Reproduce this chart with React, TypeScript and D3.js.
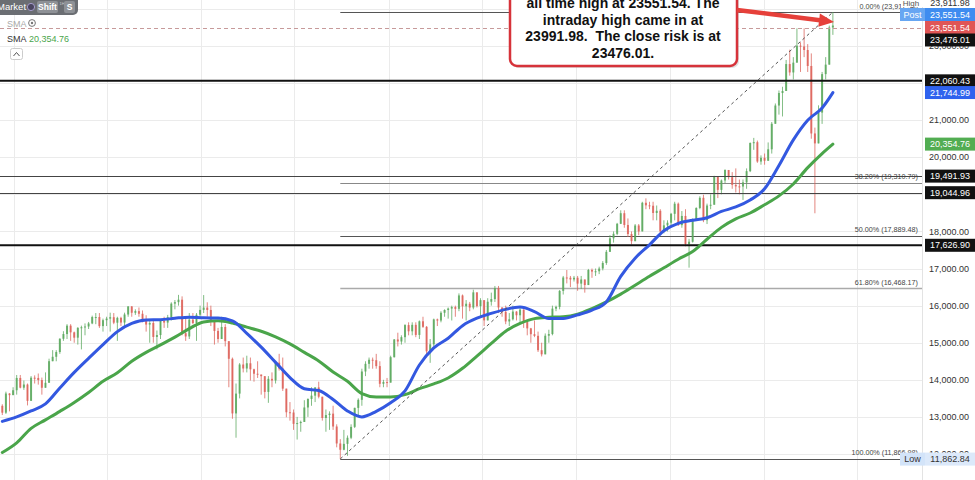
import React, { useEffect, useRef } from 'react';
import * as d3 from 'd3';

// weekly candles, first week starts Monday 7 Dec 2020, last week Monday 12 May 2025
const firstMonday = Date.UTC(2020, 11, 7);
const firstOpen = 13298;

const closes = [
  13114, 13631, 13587, 13719, // dec 20
  14050, 13788, 13873, 13433, // jan 21
  14057, 14050, 13993, 13786,
  13920, 14502, 14621, 14749, 15107,
  15234, 15460, 15280, 15136,
  15400, 15417, 15438, 15520, 15693,
  15693, 15448, 15608, 15650,
  15688, 15540, 15670, 15544,
  15761, 15977, 15808, 15852, 15781,
  15609, 15490, 15532, 15156,
  15207, 15587, 15543, 15688,
  16054, 16094, 16160, 15257, 15169,
  15623, 15531, 15756, 15885,
  15947, 15883, 15603, 15318, 15100, // jan 22
  15425, 15042, 14567, 13094,
  13628, 14413, 14305, 14446,
  14284, 14164, 14142, 14098,
  13674, 14027, 13982, 14462, 14303,
  13762, 13126, 13118, 12813,
  12834, 12864, 13254, 13484,
  13573, 13795, 13544, 12971, 13050,
  13088, 12741, 12284, 12114,
  12273, 12438, 12731, 13243, 13460,
  14224, 14431, 14541, 14529,
  14370, 13893, 13940, 13924,
  14610, 15087, 15033, 15150, 15476, // jan 23
  15308, 15482, 15210, 15578,
  15428, 14768, 14957, 15629,
  15598, 15808, 15882, 15922,
  15961, 15914, 16275, 15983, 16051,
  15949, 16358, 15989, 16148,
  15603, 16105, 16177, 16470, 15951,
  15832, 15574, 15632, 15840,
  15740, 15894, 15557, 15387,
  15230, 15186, 14798, 14687, 15189,
  15234, 15919, 15967, 16397,
  16759, 16751, 16706, 16752,
  16594, 16705, 16555, 16961, 16918, // jan 24
  16927, 17000, 17150, 17450,
  17815, 17936, 18206, 18492,
  18175, 17930, 17737, 18161, 18001,
  18773, 18704, 18693, 18498,
  18557, 18002, 18164, 18235,
  18475, 18748, 18171, 18418, 17661,
  17723, 18322, 18633, 18907,
  18302, 18699, 18720, 19473, 19121,
  19374, 19657, 19464, 19255,
  19215, 19211, 19323, 19626,
  20385, 20406, 19885, 19984, 19906,
  20215, 20903, 21395, 21732, // jan 25
  21787, 22513, 22287, 22551,
  23009, 22987, 22892, 22461, 20642,
  20374, 21205, 22242, 22497,
  23499, 23551.54,
];

const highs = [
  13340, 13680, 13640, 13800,
  14130, 14130, 13980, 13900,
  14100, 14120, 14170, 14060,
  14200, 14570, 14800, 14800, 15120,
  15310, 15500, 15500, 15300,
  15420, 15460, 15520, 15560, 15730,
  15800, 15800, 15650, 15700,
  15810, 15800, 15700, 15700,
  15810, 15990, 15990, 15900, 15950,
  15870, 15740, 15640, 15600,
  15330, 15600, 15700, 15750,
  16090, 16150, 16290, 16250, 15700,
  15800, 15800, 15800, 16000,
  16285, 16090, 16000, 15600, 15400,
  15700, 15500, 15000, 14600,
  13900, 14450, 14600, 14650,
  14600, 14300, 14500, 14100,
  14100, 14100, 14200, 14500, 14700,
  14600, 13700, 13400, 13200,
  13000, 12900, 13450, 13500,
  13800, 13800, 13950, 13500, 13200,
  13150, 13300, 12800, 12400,
  12650, 12500, 12800, 13250, 13500,
  14300, 14500, 14600, 14600,
  14700, 14500, 14000, 14050,
  14650, 15100, 15270, 15200, 15500,
  15550, 15550, 15550, 15600,
  15700, 15450, 15100, 15650,
  15650, 15850, 15900, 15950,
  16000, 16000, 16330, 16300, 16150,
  16100, 16430, 16300, 16200,
  16100, 16200, 16350, 16530, 16530,
  15950, 16000, 15800, 16000,
  15850, 15950, 15900, 15600,
  15400, 15600, 15300, 15000, 15250,
  15350, 16000, 16000, 16420,
  16800, 16960, 16800, 16800,
  16800, 16800, 16700, 16990, 17000,
  17000, 17050, 17200, 17500,
  17900, 18000, 18230, 18570,
  18570, 18350, 18000, 18200, 18200,
  18800, 18892, 18800, 18800,
  18700, 18600, 18300, 18300,
  18500, 18800, 18780, 18550, 18600,
  17800, 18350, 18650, 18950,
  18990, 18750, 19000, 19500, 19450,
  19400, 19675, 19650, 19600,
  19700, 19400, 19400, 19700,
  20400, 20522, 20450, 20050, 20100,
  20400, 20950, 21450, 21800,
  21900, 22624, 22900, 22700,
  23476.01, 23100, 23476, 23050, 22800,
  20800, 21400, 22300, 22700,
  23550, 23911.98,
];

const lows = [
  13050, 13080, 13150, 13600,
  13600, 13770, 13730, 13310,
  13500, 13900, 13870, 13600,
  13800, 13950, 14500, 14500, 14700,
  15050, 15100, 15050, 15000,
  14950, 14820, 15200, 15370, 15500,
  15500, 15400, 15300, 15450,
  15300, 15500, 15050, 15450,
  15450, 15700, 15700, 15750, 15700,
  15550, 15300, 15000, 15000,
  14820, 15100, 15400, 15400,
  15600, 15900, 16000, 15200, 15050,
  15100, 15500, 15050, 15700,
  15800, 15700, 15450, 14950, 15000,
  15200, 14900, 13800, 12950,
  12439, 13500, 14200, 14200,
  13980, 13950, 14050, 13600,
  13500, 13380, 13800, 13900, 14250,
  13700, 12990, 12900, 12650,
  12390, 12600, 12900, 13000,
  13300, 13400, 13500, 12900, 12600,
  12650, 12650, 12180, 11862.84,
  12100, 11950, 12400, 12700, 13000,
  13300, 14100, 14300, 14300,
  14300, 13800, 13800, 13800,
  13950, 14600, 14900, 14950, 15000,
  15200, 15200, 15150, 15100,
  15400, 14600, 14458, 14900,
  15450, 15550, 15700, 15650,
  15600, 15700, 15850, 15650, 15600,
  15850, 15900, 15950, 15700,
  15450, 15600, 16000, 16100, 15800,
  15700, 15500, 15450, 15600,
  15600, 15550, 15400, 15200,
  15000, 15150, 14750, 14630, 14700,
  15000, 15200, 15850, 15900,
  16300, 16600, 16500, 16650,
  16400, 16450, 16350, 16600, 16750,
  16800, 16850, 16950, 17100,
  17600, 17700, 17900, 18200,
  18100, 17850, 17650, 17850, 17900,
  18000, 18600, 18600, 18300,
  18300, 17950, 17950, 18000,
  18100, 18300, 18150, 18100, 17600,
  17024, 17700, 18300, 18600,
  18250, 18200, 18600, 18750, 18900,
  19000, 19300, 19400, 19150,
  19050, 19000, 18850, 19150,
  19600, 20200, 19850, 19800, 19800,
  19900, 20100, 20900, 21150,
  21100, 21800, 22200, 22100,
  22600, 22300, 22700, 22300, 20500,
  18489.91, 20700, 20900, 22100,
  22700, 23300,
];

// moving averages read every 4th week (and the last week)
const smaWeeks = d3.range(0, 229, 4).concat([231]);
const smaBlue = [
  12880, 13000, 13160, 13350, 13780, 14200, 14580, 14950, 15300, 15520,
  15613, 15620, 15660, 15690, 15670, 15665, 15590, 15250, 14880, 14470,
  14060, 13760, 13710, 13470, 13160, 13000, 13150, 13380, 13700, 14400,
  14860, 15120, 15460, 15660, 15790, 15900, 15960, 15840, 15650, 15650,
  15750, 15880, 16100, 16790, 17280, 17640, 18020, 18220, 18300, 18370,
  18540, 18660, 18848, 19150, 19780, 20470, 21000, 21330, 21744.99,
];
const smaGreen = [
  12040, 12300, 12690, 12920, 13150, 13390, 13660, 13960, 14190, 14500,
  14740, 14940, 15150, 15380, 15560, 15590, 15530, 15420, 15310, 15160,
  14970, 14740, 14510, 14211, 13960, 13630, 13537, 13537, 13600, 13760,
  13890, 14050, 14310, 14640, 14980, 15310, 15520, 15650, 15685, 15700,
  15770, 15920, 16100, 16310, 16550, 16790, 17020, 17250, 17460, 17790,
  18110, 18340, 18497, 18720, 18960, 19280, 19720, 20100, 20354.76,
];

const priceTicks = [12000, 13000, 14000, 15000, 16000, 17000, 18000, 19000, 20000, 21000, 22000, 23000];
const gridLevels = priceTicks.concat([24000]);
const thickLevels = [22060.43, 17626.90];
const thinLevels = [19491.93, 19044.96];
const fibRatios = [0, 0.382, 0.5, 0.618, 1];
const fibHigh = 23911.98;
const fibLow = 11866.98;
const fibLowWeek = 94;
const lastWeek = 231;
const lastPrice = 23551.54;
const closeRisk = 23476.01;
const sessionLow = 11862.84;
const noteLines = [
  'all time high at 23551.54. The',
  'intraday high came in at',
  '23991.98.  The close risk is at',
  '23476.01.',
];

const FONT = '"Liberation Sans", Arial, sans-serif';
const RED = '#dd6259';
const GREEN = '#5aa85d';
const BLUE = '#3358e0';
const SMA_GREEN = '#4aa54a';

function draw(elm: SVGSVGElement) {
  const W = 975, H = 480, plotR = 922;
  const svg = d3.select(elm).attr('font-family', FONT);
  svg.selectAll('*').remove();

  const x = d3.scaleUtc()
    .domain([new Date(Date.UTC(2020, 11, 5)), new Date(Date.UTC(2025, 10, 4))])
    .range([0, plotR]);
  const y = d3.scaleLinear().domain([11299, 24240]).range([H, 0]);
  const weekAt = (i: number) => new Date(firstMonday + (i * 7 + 2.5) * 864e5);
  const fmt = d3.format(',.2f');
  const py = (v: number) => Math.round(y(v)) + 0.5;

  svg.append('rect').attr('width', W).attr('height', H).attr('fill', '#fff');

  // grid
  const grid = svg.append('g').attr('stroke', '#ebebeb').attr('stroke-width', 1);
  grid.selectAll('.gy').data(gridLevels).join('line')
    .attr('x1', 0).attr('x2', plotR)
    .attr('y1', d => py(d)).attr('y2', d => py(d));
  grid.selectAll('.gx').data(x.ticks(d3.utcMonth.every(6)!)).join('line')
    .attr('x1', d => Math.round(x(d)) + 0.5).attr('x2', d => Math.round(x(d)) + 0.5)
    .attr('y1', 0).attr('y2', H);

  // fibonacci retracement
  const fibX0 = x(weekAt(fibLowWeek));
  const fibs = fibRatios.map(r => ({ r, v: fibHigh - r * (fibHigh - fibLow) }));
  const fibColor = (r: number) => (r === 0.618 ? '#aaa' : r === 0.382 ? '#888' : '#555');
  svg.append('g').selectAll('line').data(fibs).join('line')
    .attr('x1', fibX0).attr('x2', plotR)
    .attr('y1', d => py(d.v)).attr('y2', d => py(d.v))
    .attr('stroke', d => fibColor(d.r))
    .attr('stroke-width', d => (d.r === 0.618 ? 1.6 : 1.1));

  // candles
  const candles = closes.map((c, i) => {
    const o = i === 0 ? firstOpen : closes[i - 1];
    return { t: weekAt(i), o, c, h: Math.max(highs[i], o, c), l: Math.min(lows[i], o, c) };
  });
  const cg = svg.append('g');
  cg.selectAll('line').data(candles).join('line')
    .attr('x1', d => x(d.t)).attr('x2', d => x(d.t))
    .attr('y1', d => y(d.h)).attr('y2', d => y(d.l))
    .attr('stroke', d => (d.c >= d.o ? GREEN : RED))
    .attr('stroke-width', 0.9)
    .attr('opacity', 0.85);
  cg.selectAll('rect').data(candles).join('rect')
    .attr('x', d => x(d.t) - 1).attr('width', 2)
    .attr('y', d => y(Math.max(d.o, d.c)))
    .attr('height', d => Math.max(1, Math.abs(y(d.o) - y(d.c))))
    .attr('fill', d => (d.c >= d.o ? GREEN : RED))
    .attr('opacity', 0.85);

  // horizontal levels
  svg.append('g').selectAll('line').data(thickLevels).join('line')
    .attr('x1', 0).attr('x2', plotR).attr('y1', d => y(d)).attr('y2', d => y(d))
    .attr('stroke', '#111').attr('stroke-width', 2);
  svg.append('g').selectAll('line').data(thinLevels).join('line')
    .attr('x1', 0).attr('x2', plotR).attr('y1', d => py(d)).attr('y2', d => py(d))
    .attr('stroke', '#444').attr('stroke-width', 1.2);

  // moving averages
  const smaLine = d3.line<number>()
    .x((_, k) => x(weekAt(smaWeeks[k])))
    .y(d => y(d))
    .curve(d3.curveMonotoneX);
  svg.append('path').attr('d', smaLine(smaGreen)).attr('fill', 'none')
    .attr('stroke', SMA_GREEN).attr('stroke-width', 3).attr('stroke-linecap', 'round');
  svg.append('path').attr('d', smaLine(smaBlue)).attr('fill', 'none')
    .attr('stroke', BLUE).attr('stroke-width', 3).attr('stroke-linecap', 'round');

  // fib trend line
  svg.append('line')
    .attr('x1', fibX0).attr('y1', y(fibLow))
    .attr('x2', x(weekAt(lastWeek))).attr('y2', y(fibHigh))
    .attr('stroke', '#555').attr('stroke-width', 1).attr('stroke-dasharray', '3,3');

  // dashed price line
  svg.append('line')
    .attr('x1', 0).attr('x2', plotR).attr('y1', py(closeRisk)).attr('y2', py(closeRisk))
    .attr('stroke', '#c79a9a').attr('stroke-width', 1).attr('stroke-dasharray', '4,3');

  // fib labels
  svg.append('g').selectAll('text').data(fibs).join('text')
    .attr('x', 918).attr('y', d => y(d.v) - 3.5)
    .attr('text-anchor', 'end').attr('font-size', 7.2).attr('fill', '#444')
    .text(d => `${(d.r * 100).toFixed(2)}% (${fmt(d.v)})`);

  // price scale
  const ps = svg.append('g').attr('font-size', 9);
  ps.append('rect').attr('x', plotR).attr('y', 0).attr('width', W - plotR).attr('height', H).attr('fill', '#fff');
  ps.append('line').attr('x1', plotR + 0.5).attr('x2', plotR + 0.5).attr('y1', 0).attr('y2', H).attr('stroke', '#e3e3e3');
  ps.selectAll('.tick').data(priceTicks).join('text')
    .attr('x', 949).attr('y', d => y(d)).attr('dy', '0.35em')
    .attr('text-anchor', 'middle').attr('fill', '#333')
    .text(d => fmt(d));

  const tag = (x0: number, w: number, yc: number, text: string, fill: string, color: string) => {
    ps.append('rect').attr('x', x0).attr('y', yc - 6.5).attr('width', w).attr('height', 13).attr('fill', fill);
    ps.append('text').attr('x', x0 + w / 2).attr('y', yc).attr('dy', '0.35em')
      .attr('text-anchor', 'middle').attr('fill', color).text(text);
  };

  // high label sits on top of the 0% fib text
  ps.append('rect').attr('x', 901).attr('y', -2).attr('width', 74).attr('height', 9).attr('fill', '#fff');
  ps.append('text').attr('x', 911).attr('y', 3).attr('dy', '0.35em').attr('text-anchor', 'middle')
    .attr('fill', '#555').attr('font-size', 8).text('High');
  ps.append('text').attr('x', 950).attr('y', 3).attr('dy', '0.35em').attr('text-anchor', 'middle')
    .attr('fill', '#333').text(fmt(fibHigh));

  tag(900, 25, 14.5, 'Post', '#67a6f2', '#fff');
  tag(925, 50, 14.5, fmt(lastPrice), '#3f8cf0', '#fff');
  tag(925, 50, 27.5, fmt(lastPrice), '#e05555', '#fff');
  tag(925, 50, 40, fmt(closeRisk), '#111', '#fff');
  tag(925, 50, y(thickLevels[0]), fmt(thickLevels[0]), '#111', '#fff');
  tag(925, 50, y(smaBlue[smaBlue.length - 1]), fmt(smaBlue[smaBlue.length - 1]), '#2f62ee', '#fff');
  tag(925, 50, y(smaGreen[smaGreen.length - 1]), fmt(smaGreen[smaGreen.length - 1]), '#52ad52', '#fff');
  thinLevels.forEach(v => tag(925, 50, y(v), fmt(v), '#111', '#fff'));
  tag(925, 50, y(thickLevels[1]), fmt(thickLevels[1]), '#111', '#fff');
  tag(900, 25, y(sessionLow), 'Low', '#d3e4f9', '#333');
  tag(925, 50, y(sessionLow), fmt(sessionLow), '#dce9fa', '#333');

  // annotation
  const note = svg.append('g');
  note.append('rect').attr('x', 512).attr('y', -8).attr('width', 227).attr('height', 76).attr('rx', 7)
    .attr('fill', '#bbb').attr('opacity', 0.45);
  note.append('rect').attr('x', 510).attr('y', -10).attr('width', 227).attr('height', 76).attr('rx', 7)
    .attr('fill', '#fff').attr('stroke', '#d6333a').attr('stroke-width', 2.5);
  note.selectAll('text').data(noteLines).join('text')
    .attr('x', 623).attr('y', (_, i) => 8 + i * 16.6)
    .attr('text-anchor', 'middle').attr('font-size', 14).attr('font-weight', 'bold')
    .attr('fill', '#111').style('white-space', 'pre')
    .text(d => d);

  // arrow
  note.append('line').attr('x1', 737).attr('y1', 10).attr('x2', 820).attr('y2', 20.3)
    .attr('stroke', '#e6403a').attr('stroke-width', 4.5);
  note.append('path').attr('d', 'M834,22 L819.9,13.6 L818.3,26.8 Z').attr('fill', '#e6403a');

  // top-left legend
  const lg = svg.append('g').attr('font-size', 9);
  lg.append('rect').attr('x', -6).attr('y', -6).attr('width', 84).attr('height', 21).attr('rx', 5).attr('fill', '#6b6e73');
  lg.append('text').attr('x', -3).attr('y', 10).attr('fill', '#fff').attr('font-size', 9.5).text('Market');
  lg.append('circle').attr('cx', 31).attr('cy', 7).attr('r', 3.6).attr('fill', '#4a4560').attr('stroke', '#a59ccc');
  lg.append('rect').attr('x', 37).attr('y', 1).attr('width', 21).attr('height', 12).attr('rx', 2).attr('fill', '#8e9196');
  lg.append('text').attr('x', 47.5).attr('y', 10.3).attr('text-anchor', 'middle').attr('fill', '#fff')
    .attr('font-size', 8.5).attr('font-weight', 'bold').text('Shift');
  lg.append('text').attr('x', 59.5).attr('y', 5).attr('fill', '#ccc').attr('font-size', 4).text('1H');
  lg.append('rect').attr('x', 64).attr('y', 1).attr('width', 11).attr('height', 12).attr('rx', 2).attr('fill', '#8e9196');
  lg.append('text').attr('x', 69.5).attr('y', 10.3).attr('text-anchor', 'middle').attr('fill', '#fff')
    .attr('font-size', 8.5).attr('font-weight', 'bold').text('S');

  lg.append('text').attr('x', 7).attr('y', 26.5).attr('fill', '#aaa').text('SMA');
  lg.append('circle').attr('cx', 32).attr('cy', 23).attr('r', 3.4).attr('fill', 'none').attr('stroke', '#777');
  lg.append('circle').attr('cx', 32).attr('cy', 23).attr('r', 1.2).attr('fill', '#777');
  lg.append('text').attr('x', 7).attr('y', 41.5).attr('fill', '#333').text('SMA');
  lg.append('text').attr('x', 29).attr('y', 41.5).attr('fill', SMA_GREEN).text(fmt(smaGreen[smaGreen.length - 1]));
  lg.append('rect').attr('x', 10.5).attr('y', 48.5).attr('width', 12).attr('height', 11).attr('rx', 2)
    .attr('fill', '#fff').attr('stroke', '#ccc');
  lg.append('path').attr('d', 'M13.5,56 L16.5,52.5 L19.5,56').attr('fill', 'none').attr('stroke', '#555');
}

export default function App() {
  const svgRef = useRef<SVGSVGElement>(null);

  useEffect(() => {
    if (svgRef.current) {
      draw(svgRef.current);
    }
  }, []);

  return (
    <svg
      ref={svgRef}
      width={975}
      height={480}
      style={{ position: 'absolute', left: 0, top: 0, display: 'block' }}
    />
  );
}
